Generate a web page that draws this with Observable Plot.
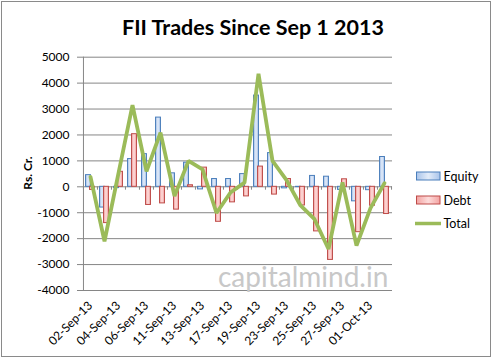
<!DOCTYPE html>
<html><head><meta charset="utf-8">
<script src="https://cdn.jsdelivr.net/npm/d3@7"></script>
<script src="https://cdn.jsdelivr.net/npm/@observablehq/plot@0.6"></script>
<style>
body{margin:0;background:#fff;}
#wrap{position:relative;width:493px;height:360px;font-family:Lato,sans-serif;overflow:hidden;}
#overlay{position:absolute;left:0;top:0;pointer-events:none;}
#frame{position:absolute;left:1px;top:1px;width:488px;height:354px;border:1px solid #8a8a8a;pointer-events:none;}
</style></head><body>
<div id="wrap">
<div id="chart"></div>
<svg id="overlay" width="493" height="360" font-family="Lato, sans-serif">
  <defs>
    <linearGradient id="gEq" x1="0" x2="1" y1="0" y2="0">
      <stop offset="0" stop-color="#a9c4ea"/><stop offset="0.5" stop-color="#e3ecf9"/><stop offset="1" stop-color="#a9c4ea"/>
    </linearGradient>
    <linearGradient id="gDebt" x1="0" x2="1" y1="0" y2="0">
      <stop offset="0" stop-color="#f3a3a2"/><stop offset="0.5" stop-color="#fddcdb"/><stop offset="1" stop-color="#f3a3a2"/>
    </linearGradient>
  </defs>
  <text id="title" x="253" y="35" text-anchor="middle" font-weight="bold" font-size="21.5" fill="#000"></text>
  <text id="ylab" transform="translate(31.5,173) rotate(-90)" text-anchor="middle" font-weight="bold" font-size="12" fill="#000"></text>
  <text id="wm" x="218" y="287" font-size="28" fill="#c8c8c8"></text>
  <g id="legend" font-size="12.5" fill="#000"></g>
</svg>
<div id="frame"></div>
</div>
<script>
const dates = ["02-Sep-13","03-Sep-13","04-Sep-13","05-Sep-13","06-Sep-13","10-Sep-13","11-Sep-13","12-Sep-13","13-Sep-13","16-Sep-13","17-Sep-13","18-Sep-13","19-Sep-13","20-Sep-13","23-Sep-13","24-Sep-13","25-Sep-13","26-Sep-13","27-Sep-13","30-Sep-13","01-Oct-13","03-Oct-13"];
const equity = [450, -800, -50, 1070, 1260, 2670, 520, 930, -100, 300, 300, 490, 3520, 1300, -60, -10, 420, 390, -120, -560, -130, 1150];
const debt = [-120, -1400, 580, 2030, -700, -640, -880, 60, 740, -1350, -600, -370, 780, -300, 300, -720, -1720, -2820, 290, -1750, -730, -1050];
const total = [380, -2100, 530, 3150, 600, 2090, -360, 1000, 670, -1010, -220, 160, 4360, 1000, 260, -720, -1250, -2400, 170, -2270, -820, 140];
const yTicks = [-4000, -3000, -2000, -1000, 0, 1000, 2000, 3000, 4000, 5000];
const labeledDates = dates.filter((d, i) => i % 2 === 0);
const seriesNames = ["Equity", "Debt", "Total"];
const titleText = "FII Trades Since Sep 1 2013";
const yLabel = "Rs. Cr.";
const watermark = "capitalmind.in";

const W = 493, H = 360, mL = 82, mR = 101, mT = 56.7, mB = 70;
const bw = (W - mL - mR) / dates.length;
const grid = "#868686";
const rows = dates.map((d, i) => ({date: d, equity: equity[i], debt: debt[i], total: total[i]}));

const chart = Plot.plot({
  width: W, height: H,
  marginLeft: mL, marginRight: mR, marginTop: mT, marginBottom: mB,
  style: {fontFamily: "Lato, sans-serif", fontSize: "12px", background: "transparent", color: "#000"},
  x: {domain: dates, padding: 0},
  y: {domain: [-4000, 5000]},
  marks: [
    Plot.gridY({ticks: yTicks, stroke: grid, strokeOpacity: 1, strokeWidth: 1}),
    Plot.ruleX([dates[0]], {dx: -bw / 2, y1: -4000, y2: 5000, stroke: grid}),
    Plot.ruleX(dates, {dx: -bw / 2, y1: 0, y2: -130, stroke: grid}),
    Plot.ruleX([dates[dates.length - 1]], {dx: bw / 2, y1: 0, y2: -130, stroke: grid}),
    Plot.axisY({ticks: yTicks, tickSize: 5, tickPadding: 8, stroke: grid, tickFormat: d => String(d), label: null, fontSize: 12}),
    Plot.axisX({ticks: labeledDates, tickRotate: -45, tickSize: 0, tickPadding: 13, label: null, fontSize: 12}),
    Plot.barY(rows, {x: "date", y: "equity", fill: "url(#gEq)", stroke: "#4a7ebb", strokeWidth: 1, insetLeft: bw / 2 - 4.5, insetRight: bw / 2 - 0.5}),
    Plot.barY(rows, {x: "date", y: "debt", fill: "url(#gDebt)", stroke: "#be4b48", strokeWidth: 1, insetLeft: bw / 2 - 0.5, insetRight: bw / 2 - 4.5}),
    Plot.lineY(rows, {x: "date", y: "total", stroke: "#9bbb59", strokeWidth: 3.8, strokeLinejoin: "miter"})
  ]
});
document.getElementById("chart").appendChild(chart);

document.getElementById("title").textContent = titleText;
document.getElementById("ylab").textContent = yLabel;
document.getElementById("wm").textContent = watermark;

const lg = d3.select("#legend");
const items = [
  {name: seriesNames[0], type: "rect", fill: "url(#gEq)", stroke: "#4a7ebb", y: 176},
  {name: seriesNames[1], type: "rect", fill: "url(#gDebt)", stroke: "#be4b48", y: 200},
  {name: seriesNames[2], type: "line", stroke: "#9bbb59", y: 223.5}
];
items.forEach(it => {
  if (it.type === "rect") {
    lg.append("rect").attr("x", 416.5).attr("y", it.y - 4).attr("width", 23.5).attr("height", 8)
      .attr("fill", it.fill).attr("stroke", it.stroke);
  } else {
    lg.append("line").attr("x1", 415).attr("x2", 441).attr("y1", it.y).attr("y2", it.y)
      .attr("stroke", it.stroke).attr("stroke-width", 3.5);
  }
  lg.append("text").attr("x", 443.5).attr("y", it.y + 4.5).text(it.name);
});
</script>
</body></html>
